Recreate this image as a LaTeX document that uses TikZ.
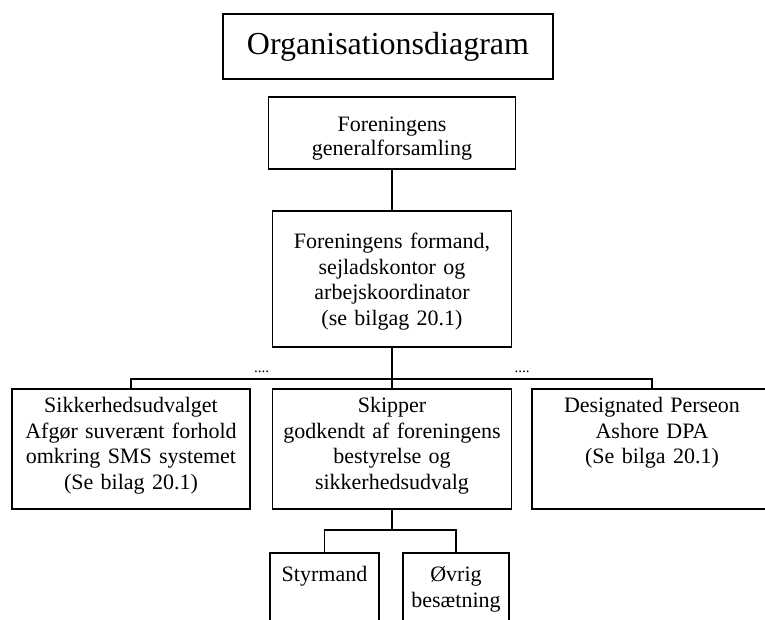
\documentclass[tikz,border=0pt]{standalone}
\usepackage{fontspec}
\setmainfont{Liberation Serif}
\usepackage{tikz}
\tikzstyle{orgbox} = [rectangle, draw = black, anchor = north, inner xsep = 3pt, inner ysep = 0pt, align = center, font = \fontsize{22}{25.5}\selectfont]
\tikzstyle{dots} = [above, inner sep = 6pt, font = \fontsize{15}{18}\selectfont]

\begin{document}
\begin{tikzpicture}[x = 1pt, y = -1pt, line width = 1.5pt]
        \clip (0,0) rectangle (765,619);
        \node (title) [orgbox, text width = 322pt, inner xsep = 4pt, text height = 41pt, text depth = 24pt, font = \fontsize{32}{36}\selectfont] at (388,13) {Organisationsdiagram};
        \node (gen) [orgbox, text width = 241pt, text height = 35pt, text depth = 37pt, font = \fontsize{22}{24}\selectfont] at (392,96) {Foreningens\\generalforsamling};
        \node (formand) [orgbox, text width = 233pt, text height = 38pt, text depth = 98pt] at (392,210) {Foreningens formand,\\sejladskontor og\\arbejskoordinator\\(se bilgag 20.1)};
        % udvalg og skipper
        \node (sikker) [orgbox, text width = 232pt, text height = 24pt, text depth = 96pt] at (131,388) {Sikkerhedsudvalget\\Afgør suverænt forhold\\omkring SMS systemet\\(Se bilag 20.1)};
        \node (skipper) [orgbox, text width = 233pt, text height = 24pt, text depth = 96pt] at (392,388) {Skipper\\godkendt af foreningens\\bestyrelse og\\sikkerhedsudvalg};
        \node (dpa) [orgbox, text width = 234pt, text height = 24pt, text depth = 96pt] at (652,388) {Designated Perseon\\Ashore DPA\\(Se bilga 20.1)};
        % besaetning
        \node (styr) [orgbox, text width = 103pt, text height = 29pt, text depth = 80pt] at (324.5,552) {Styrmand};
        \node (oevrig) [orgbox, text width = 100pt, text height = 29pt, text depth = 80pt] at (456,552) {Øvrig\\besætning};
        \coordinate (bar) at (392,379);
        \coordinate (crew) at (392,530);
        \draw (gen) -- (formand);
        \draw (formand) -- (bar);
        \draw (sikker.north) |- node[dots, pos = .75]{....} (bar) -| node[dots, pos = .25]{....} (dpa.north);
        \draw (bar) -- (skipper);
        \draw (skipper) -- (crew);
        \draw (styr.north) |- (crew) -| (oevrig.north);
    \end{tikzpicture}
\end{document}
